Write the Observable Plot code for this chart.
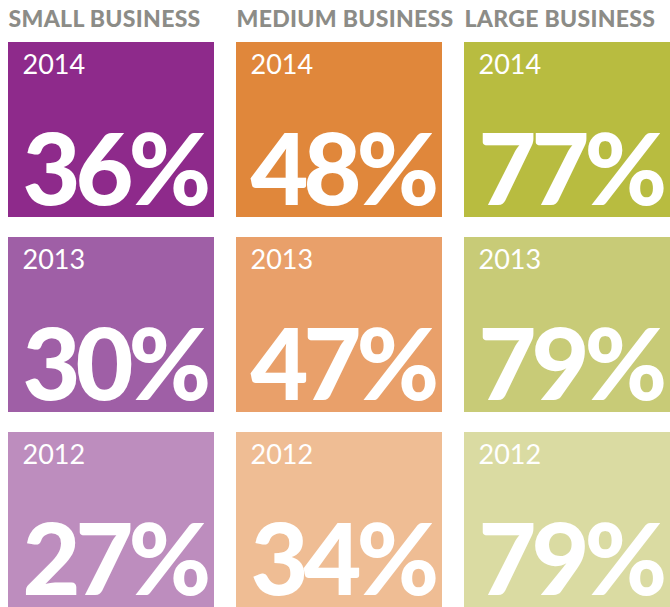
<!DOCTYPE html>
<html>
<head>
<meta charset="utf-8">
<script src="https://cdn.jsdelivr.net/npm/d3@7"></script>
<script src="https://cdn.jsdelivr.net/npm/@observablehq/plot@0.6"></script>
<style>
  html, body { margin: 0; padding: 0; background: #ffffff; }
  #chart svg { display: block; }
</style>
</head>
<body>
<div id="chart"></div>
<script>
const businesses = ["SMALL BUSINESS", "MEDIUM BUSINESS", "LARGE BUSINESS"];
const years = ["2014", "2013", "2012"];
const smallValues = [36, 30, 27];
const mediumValues = [48, 47, 34];
const largeValues = [77, 79, 79];
const smallColors = ["#8e2a8b", "#9f5fa6", "#bd8dbe"];
const mediumColors = ["#e0873b", "#e9a06a", "#efbd94"];
const largeColors = ["#b8bc40", "#c8cb77", "#dadba2"];

const valuesBy = [smallValues, mediumValues, largeValues];
const colorsBy = [smallColors, mediumColors, largeColors];
const cells = [];
businesses.forEach((b, i) => years.forEach((y, j) => {
  cells.push({business: b, year: y, value: valuesBy[i][j], color: colorsBy[i][j]});
}));

const chart = Plot.plot({
  width: 670,
  height: 607,
  marginTop: 42,
  marginLeft: 8,
  marginRight: 0,
  marginBottom: 0,
  x: {domain: businesses, paddingInner: 0.0965, paddingOuter: 0, axis: null},
  y: {domain: years, paddingInner: 0.1026, paddingOuter: 0, axis: null},
  color: {type: "identity"},
  style: {fontFamily: "Lato, 'Open Sans', sans-serif"},
  marks: [
    Plot.cell(cells, {x: "business", y: "year", fill: "color", inset: 0}),
    Plot.text(businesses, {
      x: d => d, frameAnchor: "top", textAnchor: "start", dx: -103, dy: -16,
      fill: "#8c8c87", fontSize: 23, fontWeight: 900, lineAnchor: "bottom"
    }),
    Plot.text(cells, {
      x: "business", y: "year", text: "year", textAnchor: "start", lineAnchor: "bottom",
      dx: -89, dy: -56, fill: "white", fontSize: 27, fontWeight: 400
    }),
    Plot.text(cells, {
      x: "business", y: "year", text: d => d.value + "%", textAnchor: "start", lineAnchor: "bottom",
      dx: -89, dy: 75, fill: "white", fontSize: 100, fontWeight: 900
    })
  ]
});
// tighten the big percentage figures like the reference's condensed display face
const groups = chart.querySelectorAll("g[aria-label='text']");
if (groups.length >= 3) groups[2].setAttribute("letter-spacing", "-5");
if (groups.length >= 1) groups[0].setAttribute("letter-spacing", "0.3");
document.getElementById("chart").appendChild(chart);
</script>
</body>
</html>
